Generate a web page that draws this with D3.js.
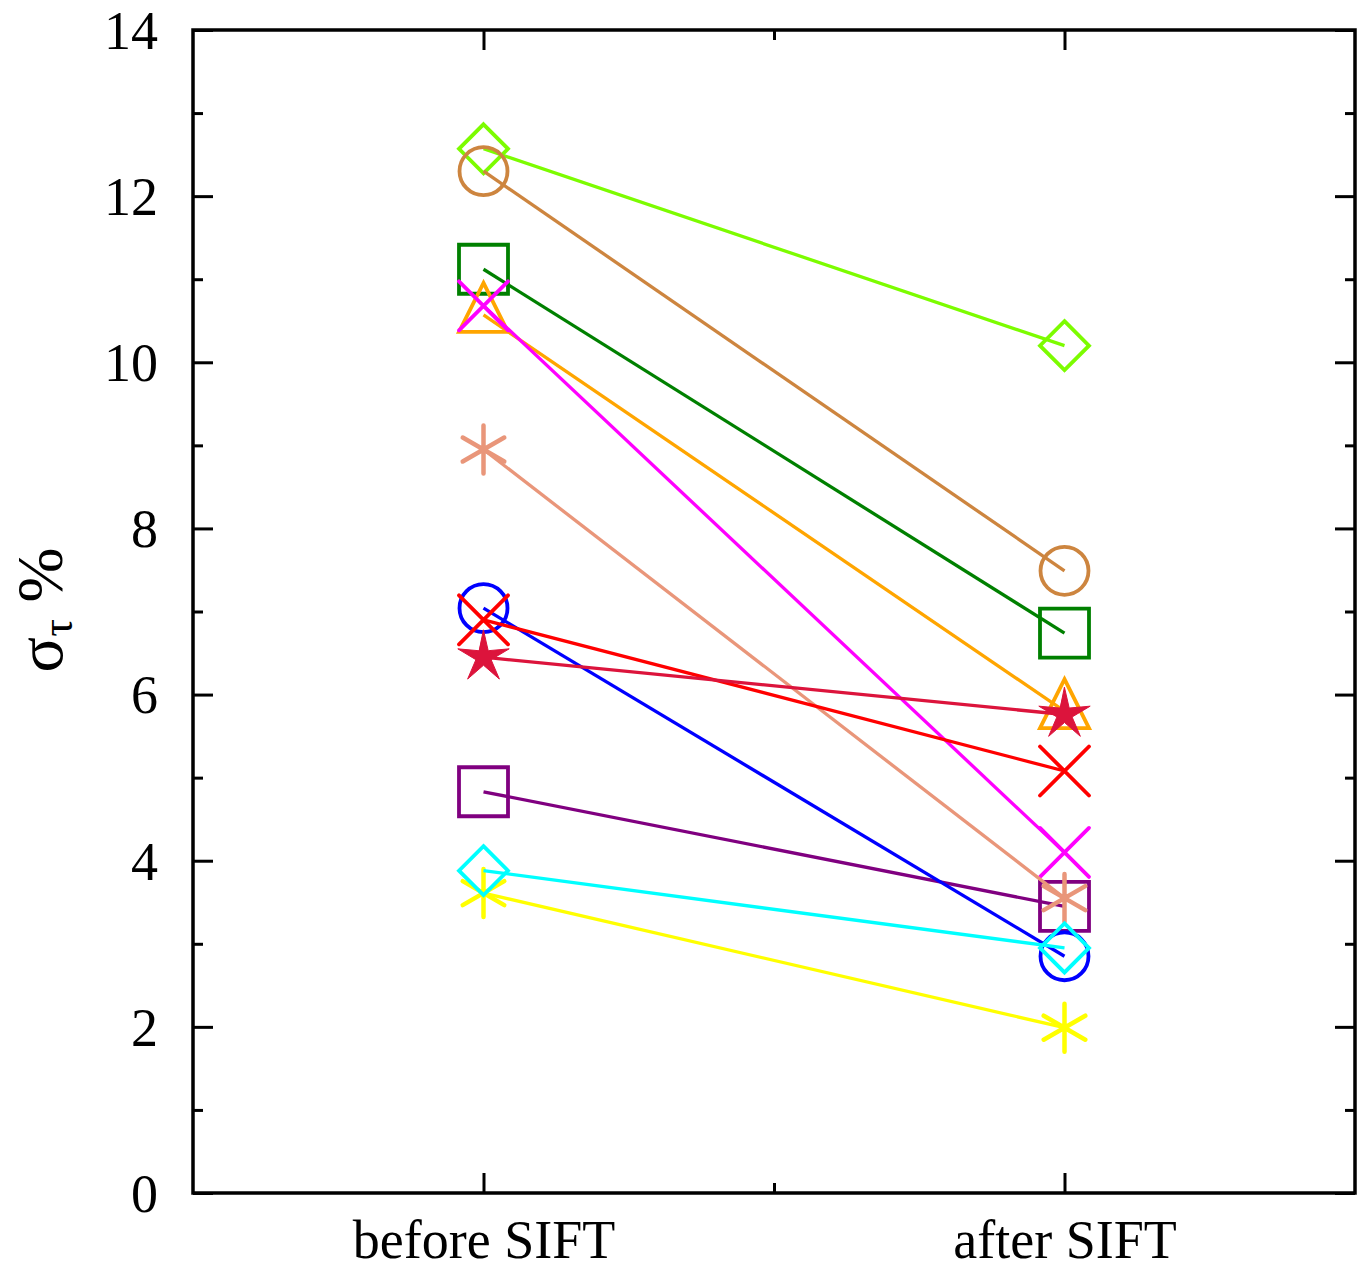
<!DOCTYPE html>
<html>
<head>
<meta charset="utf-8">
<script src="https://cdn.jsdelivr.net/npm/d3@7"></script>
<style>
  body { margin: 0; background: #fff; }
  text { font-family: "Liberation Serif", "Times New Roman", serif; }
</style>
</head>
<body>
<svg id="chart" width="1363" height="1273"></svg>
<script>
// categories on the x axis (positions 1 and 3 on a 0..4 scale)
const categories = ['before SIFT', 'after SIFT'];
const catPos = [1, 3];

// one entry per series: [before, after]
const seriesNames = ['lawngreen', 'peru', 'green', 'orange', 'magenta', 'purple', 'darksalmon', 'blue', 'red', 'crimson', 'yellow', 'cyan'];
const seriesColors = ['#7CFC00', '#CD853F', '#008000', '#FFA500', '#FF00FF', '#800080', '#E9967A', '#0000FF', '#FF0000', '#DC143C', '#FFFF00', '#00FFFF'];
const seriesMarkers = ['diamond', 'circle', 'square', 'triangle', 'times', 'square', 'asterisk', 'circle', 'times', 'star', 'asterisk', 'diamond'];
const beforeValues = [12.57, 12.30, 11.12, 10.57, 10.68, 4.83, 8.95, 7.04, 6.90, 6.45, 3.61, 3.88];
const afterValues  = [10.20, 7.49, 6.74, 5.80, 4.10, 3.45, 3.55, 2.85, 5.08, 5.76, 1.99, 2.95];

const yMajorTicks = [0, 2, 4, 6, 8, 10, 12, 14];
const yMinorTicks = [1, 3, 5, 7, 9, 11, 13];

const svg = d3.select('#chart');
const margin = { left: 193, right: 8, top: 30, bottom: 80 };
const W = 1363, H = 1273;

const x = d3.scaleLinear().domain([0, 4]).range([margin.left, W - margin.right]);
const y = d3.scaleLinear().domain([0, 14]).range([H - margin.bottom, margin.top]);

const x0 = x.range()[0], x1 = x.range()[1];
const y0 = y.range()[0], y1 = y.range()[1];

// marker path drawn around (0,0)
function markerPath(type) {
  const p = d3.path();
  const s = 24.5;
  if (type === 'square') {
    p.rect(-s, -s, 2 * s, 2 * s);
  } else if (type === 'circle') {
    p.arc(0, 0, 24, 0, 2 * Math.PI);
  } else if (type === 'diamond') {
    p.moveTo(0, -s); p.lineTo(s, 0); p.lineTo(0, s); p.lineTo(-s, 0); p.closePath();
  } else if (type === 'triangle') {
    p.moveTo(0, -32); p.lineTo(24.5, 17); p.lineTo(-24.5, 17); p.closePath();
  } else if (type === 'times') {
    p.moveTo(-s, -s); p.lineTo(s, s); p.moveTo(-s, s); p.lineTo(s, -s);
  } else if (type === 'asterisk') {
    const r = 24, t = r / 2, u = t * Math.sqrt(3);
    p.moveTo(0, -r); p.lineTo(0, r);
    p.moveTo(-u, -t); p.lineTo(u, t);
    p.moveTo(-u, t); p.lineTo(u, -t);
  } else if (type === 'star') {
    const ro = 27, ri = 8;
    for (let i = 0; i < 10; i++) {
      const r = i % 2 === 0 ? ro : ri;
      const a = -Math.PI / 2 + i * Math.PI / 5;
      if (i === 0) p.moveTo(r * Math.cos(a), r * Math.sin(a));
      else p.lineTo(r * Math.cos(a), r * Math.sin(a));
    }
    p.closePath();
  }
  return p.toString();
}

// series: line then markers
const plot = svg.append('g');
seriesNames.forEach((name, i) => {
  const pts = [beforeValues[i], afterValues[i]].map((v, j) => ({ x: catPos[j], y: v }));
  const g = plot.append('g').attr('class', 'series ' + name);
  g.append('path')
    .datum(pts)
    .attr('fill', 'none')
    .attr('stroke', seriesColors[i])
    .attr('stroke-width', 3.3)
    .attr('d', d3.line().x(d => x(d.x)).y(d => y(d.y)));
  g.selectAll('.mk')
    .data(pts)
    .enter()
    .append('path')
    .attr('class', 'mk')
    .attr('transform', d => `translate(${x(d.x)},${y(d.y)})`)
    .attr('d', markerPath(seriesMarkers[i]))
    .attr('fill', seriesMarkers[i] === 'star' ? seriesColors[i] : 'none')
    .attr('stroke', seriesColors[i])
    .attr('stroke-width', seriesMarkers[i] === 'star' ? 1 : (seriesMarkers[i] === 'asterisk' ? 4.5 : 3.8))
    .attr('stroke-linecap', 'round')
    .attr('stroke-linejoin', 'miter');
});

// axes, ticks pointing inward
function styleAxis(g) {
  g.select('.domain').remove();
  g.selectAll('.tick line').attr('stroke', '#000').attr('stroke-width', 3);
}

svg.append('g')
  .attr('transform', `translate(${x0},0)`)
  .call(d3.axisLeft(y).tickValues(yMajorTicks).tickSize(-20).tickPadding(35).tickFormat(d3.format('d')))
  .call(styleAxis)
  .call(g => g.selectAll('text').attr('font-size', 54).attr('fill', '#000').attr('dy', '0.34em'));
svg.append('g')
  .attr('transform', `translate(${x0},0)`)
  .call(d3.axisLeft(y).tickValues(yMinorTicks).tickSize(-10).tickFormat(''))
  .call(styleAxis);
svg.append('g')
  .attr('transform', `translate(${x1},0)`)
  .call(d3.axisRight(y).tickValues(yMajorTicks).tickSize(-20).tickFormat(''))
  .call(styleAxis);
svg.append('g')
  .attr('transform', `translate(${x1},0)`)
  .call(d3.axisRight(y).tickValues(yMinorTicks).tickSize(-10).tickFormat(''))
  .call(styleAxis);

svg.append('g')
  .attr('transform', `translate(0,${y0})`)
  .call(d3.axisBottom(x).tickValues(catPos).tickSize(-20).tickPadding(27).tickFormat((d, i) => categories[i]))
  .call(styleAxis)
  .call(g => g.selectAll('text').attr('font-size', 54).attr('fill', '#000').attr('dy', '0.71em'));
svg.append('g')
  .attr('transform', `translate(0,${y0})`)
  .call(d3.axisBottom(x).tickValues([2]).tickSize(-10).tickFormat(''))
  .call(styleAxis);
svg.append('g')
  .attr('transform', `translate(0,${y1})`)
  .call(d3.axisTop(x).tickValues(catPos).tickSize(-20).tickFormat(''))
  .call(styleAxis);
svg.append('g')
  .attr('transform', `translate(0,${y1})`)
  .call(d3.axisTop(x).tickValues([2]).tickSize(-10).tickFormat(''))
  .call(styleAxis);

// frame
svg.append('rect')
  .attr('x', x0).attr('y', y1)
  .attr('width', x1 - x0).attr('height', y0 - y1)
  .attr('fill', 'none')
  .attr('stroke', '#000')
  .attr('stroke-width', 3.5);

// y axis title: sigma_tau %
const yt = svg.append('text')
  .attr('transform', 'translate(62,610) rotate(-90)')
  .attr('text-anchor', 'middle')
  .attr('font-size', 66)
  .attr('fill', '#000');
yt.append('tspan').text('σ');
yt.append('tspan').attr('font-size', 44).attr('dy', 10).text('τ');
yt.append('tspan').attr('dy', -10).text('\u00a0%');
</script>
</body>
</html>
